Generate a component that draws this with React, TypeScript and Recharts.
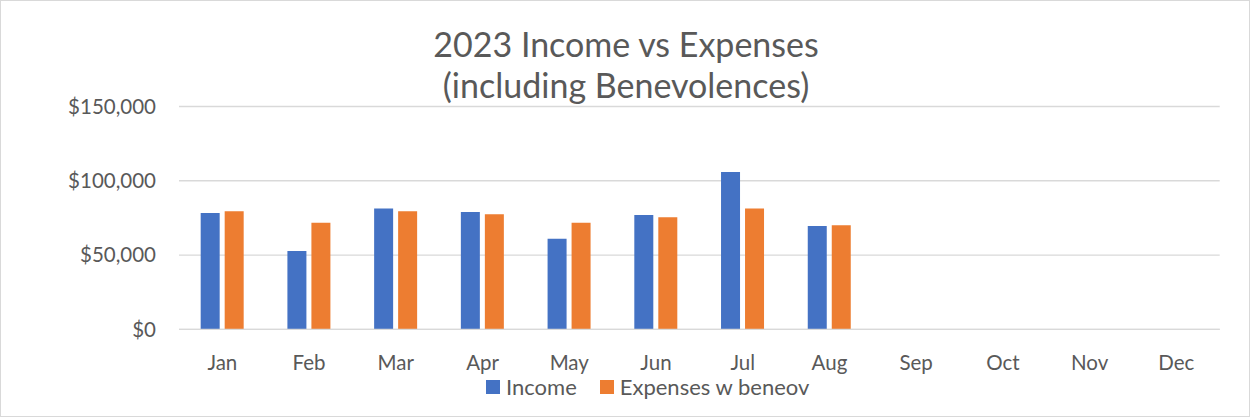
import React from "react";
import { BarChart, Bar, XAxis, YAxis, CartesianGrid, Legend } from "recharts";

const months = ["Jan", "Feb", "Mar", "Apr", "May", "Jun", "Jul", "Aug", "Sep", "Oct", "Nov", "Dec"];
const income: (number | null)[] = [78300, 52700, 81400, 78900, 61000, 76900, 105900, 69500, null, null, null, null];
const expenses: (number | null)[] = [79400, 71700, 79400, 77400, 71700, 75400, 81400, 70000, null, null, null, null];
const yTicks = [0, 50000, 100000, 150000];
const titleLines = ["2023 Income vs Expenses", "(including Benevolences)"];
const seriesNames = ["Income", "Expenses w beneov"];

const data = months.map((m, i) => ({ month: m, income: income[i], expenses: expenses[i] }));

const FONT = "Lato, 'Open Sans', sans-serif";
const TEXT = "#595959";

const fmt = (v: number) => "$" + v.toLocaleString("en-US");

const LegendContent = (props: any) => {
  const payload = [...(props.payload || [])].sort(
    (a: any, b: any) => seriesNames.indexOf(a.value) - seriesNames.indexOf(b.value)
  );
  return (
    <div style={{ display: "flex", alignItems: "center", paddingLeft: 485, fontFamily: FONT, fontSize: 22, color: TEXT }}>
      {payload.map((p: any, i: number) => (
        <div key={i} style={{ display: "flex", alignItems: "center", marginRight: 23 }}>
          <span style={{ display: "inline-block", width: 14, height: 14, background: p.color, marginRight: 6 }} />
          <span>{p.value}</span>
        </div>
      ))}
    </div>
  );
};

export default function App() {
  return (
    <div
      style={{
        position: "absolute",
        top: 0,
        left: 0,
        width: 1250,
        height: 417,
        boxSizing: "border-box",
        border: "1px solid #d9d9d9",
        background: "#fff",
      }}
    >
      <BarChart
        width={1248}
        height={415}
        data={data}
        margin={{ top: 105.5, right: 29.3, left: 0, bottom: 36.7 }}
        barCategoryGap="25%"
        barGap={5}
      >
        <text x={625} y={55.7} textAnchor="middle" fontFamily={FONT} fontSize={34} fill={TEXT}>
          {titleLines[0]}
        </text>
        <text x={625} y={96.7} textAnchor="middle" fontFamily={FONT} fontSize={34} fill={TEXT}>
          {titleLines[1]}
        </text>
        <CartesianGrid vertical={false} stroke="#d9d9d9" strokeWidth={1.3} />
        <XAxis
          dataKey="month"
          axisLine={{ stroke: "#d9d9d9", strokeWidth: 1.3 }}
          tickLine={false}
          tickMargin={20}
          height={50}
          tick={{ fontFamily: FONT, fontSize: 20.5, fill: TEXT }}
          interval={0}
        />
        <YAxis
          width={178}
          domain={[0, 150000]}
          ticks={yTicks}
          tickFormatter={fmt}
          axisLine={false}
          tickLine={false}
          tickMargin={17}
          tick={{ fontFamily: FONT, fontSize: 20.5, fill: TEXT }}
        />
        <Legend
          content={<LegendContent />}
          itemSorter={null as any}
          wrapperStyle={{ left: 0, top: 372, width: 1248, height: 0 }}
        />
        <Bar dataKey="income" name={seriesNames[0]} fill="#4472c4" isAnimationActive={false} />
        <Bar dataKey="expenses" name={seriesNames[1]} fill="#ed7d31" isAnimationActive={false} />
      </BarChart>
    </div>
  );
}
